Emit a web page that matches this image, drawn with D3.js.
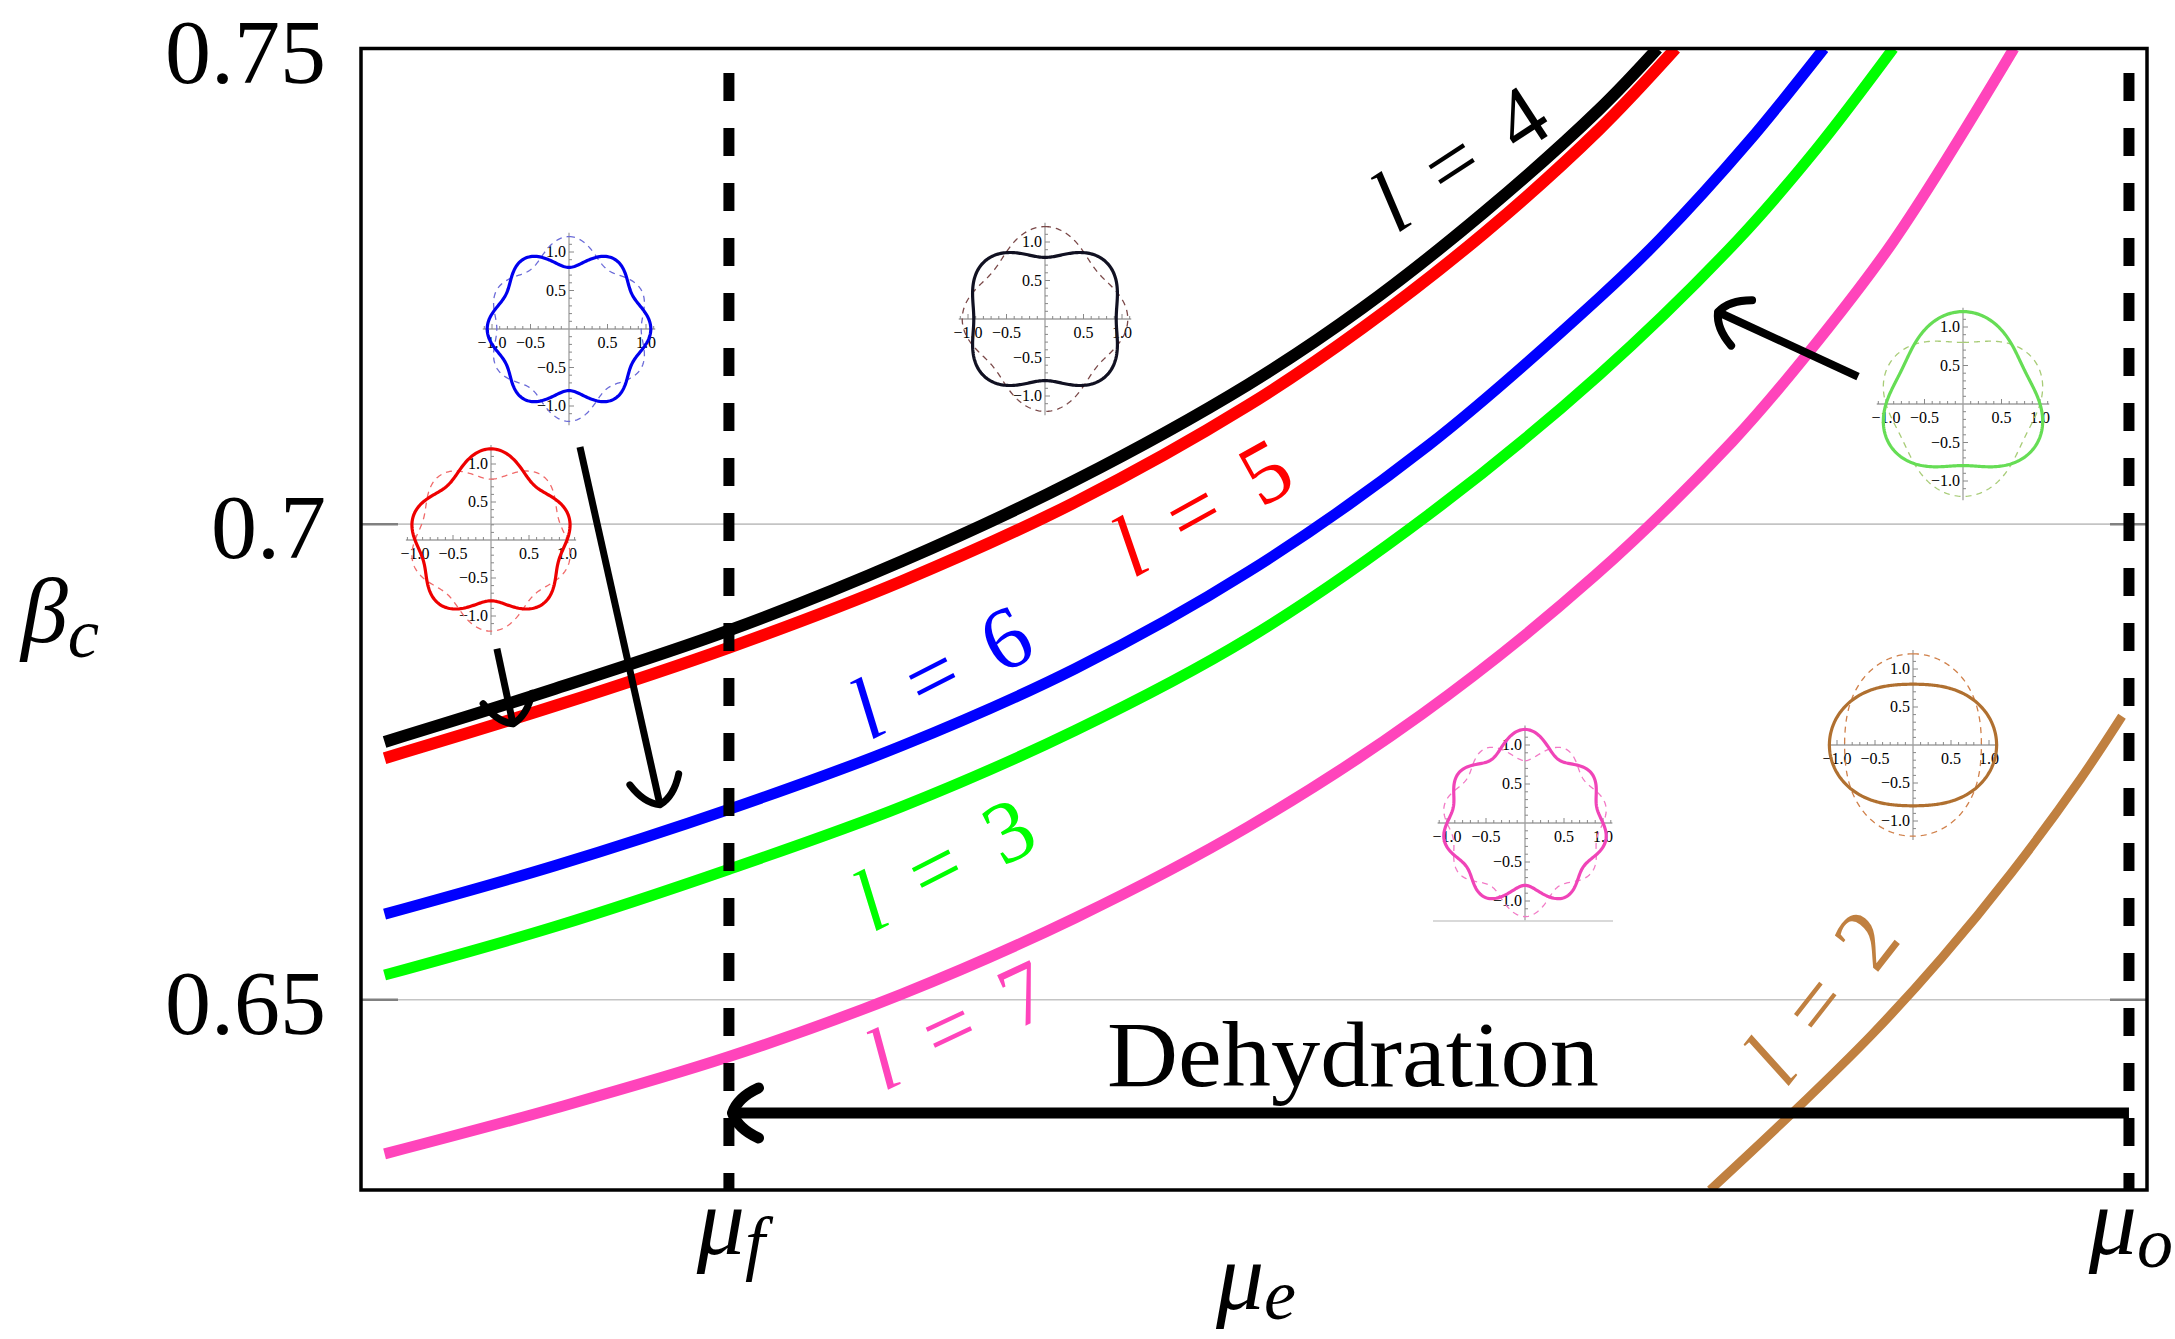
<!DOCTYPE html>
<html lang="en">
<head>
<meta charset="UTF-8">
<script src="https://cdn.jsdelivr.net/npm/d3@7"></script>
<style>
  body { margin: 0; background: #fff; }
  svg text { font-family: "Liberation Serif", "DejaVu Serif", serif; }
</style>
</head>
<body>
<div id="chart"></div>
<script>
// mu_e runs 0..1 across the frame (no numeric ticks in the original), beta_c on y
const l4X = [0.0132, 0.1087, 0.2057, 0.3028, 0.3998, 0.4969, 0.5606, 0.6289, 0.6933, 0.7259];
const l4Y = [0.6771, 0.6827, 0.6888, 0.6961, 0.7046, 0.7147, 0.7227, 0.7328, 0.7436, 0.7500];
const l5X = [0.0132, 0.1087, 0.2057, 0.3028, 0.3998, 0.4969, 0.5606, 0.6289, 0.6933, 0.7360];
const l5Y = [0.6754, 0.6809, 0.6870, 0.6940, 0.7023, 0.7125, 0.7206, 0.7306, 0.7415, 0.7500];
const l6X = [0.0132, 0.1087, 0.2057, 0.3028, 0.3998, 0.4969, 0.5978, 0.6933, 0.7275, 0.7764, 0.8191];
const l6Y = [0.6590, 0.6641, 0.6700, 0.6767, 0.6848, 0.6950, 0.7083, 0.7238, 0.7300, 0.7401, 0.7500];
const l3X = [0.0132, 0.1087, 0.2057, 0.3028, 0.3998, 0.4969, 0.5978, 0.6933, 0.7710, 0.8152, 0.8579];
const l3Y = [0.6526, 0.6577, 0.6637, 0.6703, 0.6783, 0.6880, 0.7010, 0.7157, 0.7299, 0.7395, 0.7500];
const l7X = [0.0132, 0.1087, 0.2057, 0.3028, 0.3998, 0.4969, 0.5939, 0.6910, 0.7679, 0.8082, 0.8579, 0.9255];
const l7Y = [0.6338, 0.6386, 0.6440, 0.6506, 0.6586, 0.6682, 0.6800, 0.6946, 0.7087, 0.7175, 0.7297, 0.7500];
const l2X = [0.7554, 0.8020, 0.8463, 0.8851, 0.9239, 0.9627, 0.9860];
const l2Y = [0.6300, 0.6382, 0.6464, 0.6544, 0.6633, 0.6732, 0.6798];

const yTicks = [0.65, 0.7, 0.75];
const yTickLabels = ['0.65', '0.7', '0.75'];
const muMarks = [0.2060, 0.9899];          // mu_f, mu_o
const muMarkSubs = ['f', 'o'];
const dehydrationY = 0.6381;

// inset shapes: r = 1 + amp * P_l(cos theta), dashed one with opposite sign
const insetModes = [6, 5, 4, 3, 7, 2];
const insetAmps = [-0.2, 0.2, -0.2, 0.2, 0.2, -0.2];
const insetTickValues = [-1, -0.5, 0.5, 1];
const insetTickLabels = ['\u22121.0', '\u22120.5', '0.5', '1.0'];

const W = 2175, H = 1339;
const margin = { top: 48.5, right: 28, bottom: 149, left: 361 };
const width = W - margin.left - margin.right,
      height = H - margin.top - margin.bottom;

const svg = d3.select('#chart').append('svg')
    .attr('width', W)
    .attr('height', H);

const x = d3.scaleLinear().domain([0, 1]).range([margin.left, margin.left + width]);
const y = d3.scaleLinear().domain([0.63, 0.75]).range([margin.top + height, margin.top]);

svg.append('clipPath').attr('id', 'frame')
    .append('rect')
    .attr('x', margin.left).attr('y', margin.top)
    .attr('width', width).attr('height', height);

// grid lines + small ticks
svg.append('g').selectAll('line')
    .data(yTicks.slice(0, 2))
    .enter().append('line')
    .attr('x1', margin.left).attr('x2', margin.left + width)
    .attr('y1', d => y(d)).attr('y2', d => y(d))
    .attr('stroke', '#c4c4c4').attr('stroke-width', 1.6);

const tickG = svg.append('g');
yTicks.slice(0, 2).forEach(t => {
    tickG.append('line').attr('x1', margin.left).attr('x2', margin.left + 37)
        .attr('y1', y(t)).attr('y2', y(t)).attr('stroke', '#808080').attr('stroke-width', 2.5);
    tickG.append('line').attr('x1', margin.left + width - 37).attr('x2', margin.left + width)
        .attr('y1', y(t)).attr('y2', y(t)).attr('stroke', '#808080').attr('stroke-width', 2.5);
});

// y tick labels
svg.append('g').selectAll('text')
    .data(yTicks)
    .enter().append('text')
    .attr('x', margin.left - 35)
    .attr('y', d => y(d) + 34)
    .attr('text-anchor', 'end')
    .attr('font-size', 92)
    .text((d, i) => yTickLabels[i]);

// legendre polynomial
function legendre(n, t) {
    let p0 = 1, p1 = t;
    if (n === 0) return p0;
    for (let k = 1; k < n; k++) {
        const p2 = ((2 * k + 1) * t * p1 - k * p0) / (k + 1);
        p0 = p1; p1 = p2;
    }
    return p1;
}

// insets (placed like small pasted figures)
const insets = [
    { ox: 569, oy: 329, unit: 77, color: '#0000ee', dash: '#6b6bd8' },
    { ox: 491, oy: 540, unit: 76, color: '#ee0000', dash: '#f06a6a' },
    { ox: 1045, oy: 319, unit: 77, color: '#111122', dash: '#7a4848' },
    { ox: 1963, oy: 404, unit: 77, color: '#66dd55', dash: '#a8cc77' },
    { ox: 1525, oy: 823, unit: 78, color: '#f044b8', dash: '#f27ac6' },
    { ox: 1913, oy: 745, unit: 76, color: '#b07030', dash: '#d0804a' }
];

insets.forEach((cfg, i) => {
    const sx = d3.scaleLinear().domain([-1, 1]).range([cfg.ox - cfg.unit, cfg.ox + cfg.unit]);
    const sy = d3.scaleLinear().domain([-1, 1]).range([cfg.oy + cfg.unit, cfg.oy - cfg.unit]);
    const g = svg.append('g');

    g.append('line').attr('x1', sx(-1.12)).attr('x2', sx(1.12))
        .attr('y1', sy(0)).attr('y2', sy(0)).attr('stroke', '#a0a0a0').attr('stroke-width', 1.3);
    g.append('line').attr('x1', sx(0)).attr('x2', sx(0))
        .attr('y1', sy(1.25)).attr('y2', sy(-1.25)).attr('stroke', '#a0a0a0').attr('stroke-width', 1.3);

    d3.range(-11, 12).filter(k => k !== 0).forEach(k => {
        const v = k / 10, len = (k % 5 === 0) ? 5 : 3;
        g.append('line').attr('x1', sx(v)).attr('x2', sx(v))
            .attr('y1', sy(0)).attr('y2', sy(0) - len).attr('stroke', '#888').attr('stroke-width', 1);
        g.append('line').attr('x1', sx(0)).attr('x2', sx(0) + len)
            .attr('y1', sy(v)).attr('y2', sy(v)).attr('stroke', '#888').attr('stroke-width', 1);
    });

    g.selectAll('.xl').data(insetTickValues).enter().append('text')
        .attr('x', d => sx(d)).attr('y', sy(0) + 19)
        .attr('text-anchor', 'middle').attr('font-size', 16)
        .text((d, j) => insetTickLabels[j]);
    g.selectAll('.yl').data(insetTickValues).enter().append('text')
        .attr('x', sx(0) - 3).attr('y', d => sy(d) + 5)
        .attr('text-anchor', 'end').attr('font-size', 16)
        .text((d, j) => insetTickLabels[j]);

    const thetas = d3.range(0, 361).map(d => d * Math.PI / 180);
    const shape = sgn => thetas.map(th => {
        const r = 1 + sgn * insetAmps[i] * legendre(insetModes[i], Math.cos(th));
        return [sx(r * Math.sin(th)), sy(r * Math.cos(th))];
    });
    g.append('path').attr('d', d3.line()(shape(-1)))
        .attr('fill', 'none').attr('stroke', cfg.dash).attr('stroke-width', 1.3)
        .attr('stroke-dasharray', '6,5');
    g.append('path').attr('d', d3.line()(shape(1)))
        .attr('fill', 'none').attr('stroke', cfg.color).attr('stroke-width', 3.2);
});
// pink inset has a stray frame line under it
svg.append('line').attr('x1', 1433).attr('x2', 1613).attr('y1', 921).attr('y2', 921)
    .attr('stroke', '#cccccc').attr('stroke-width', 1.5);

// main curves
const series = [
    { l: 4, xs: l4X, ys: l4Y, color: '#000000', w: 12 },
    { l: 5, xs: l5X, ys: l5Y, color: '#ff0000', w: 12 },
    { l: 6, xs: l6X, ys: l6Y, color: '#0000ff', w: 11 },
    { l: 3, xs: l3X, ys: l3Y, color: '#00ff00', w: 11 },
    { l: 7, xs: l7X, ys: l7Y, color: '#ff44bb', w: 11 },
    { l: 2, xs: l2X, ys: l2Y, color: '#c08040', w: 9 }
];

const line = d3.line()
    .x(d => x(d[0]))
    .y(d => y(d[1]))
    .curve(d3.curveCatmullRom.alpha(0.5));

const curveG = svg.append('g').attr('clip-path', 'url(#frame)');
series.slice().reverse().forEach(s => {
    curveG.append('path')
        .attr('d', line(s.xs.map((v, i) => [v, s.ys[i]])))
        .attr('fill', 'none')
        .attr('stroke', s.color)
        .attr('stroke-width', s.w);
});

// vertical dashed lines at mu_f and mu_o
svg.append('g').selectAll('line')
    .data(muMarks)
    .enter().append('line')
    .attr('x1', d => x(d)).attr('x2', d => x(d))
    .attr('y1', margin.top).attr('y2', margin.top + height)
    .attr('stroke', '#000').attr('stroke-width', 11)
    .attr('stroke-dasharray', '28,27').attr('stroke-dashoffset', 30.5);

// arrows
function arrowHead(g, tx, ty, ang, len, half, w) {
    const c = Math.cos(ang), s = Math.sin(ang);
    const pt = (u, v) => [tx + u * c - v * s, ty + u * s + v * c];
    const p1 = pt(-len, -half), c1 = pt(-len * 0.2, -half * 0.62);
    const p2 = pt(-len, half), c2 = pt(-len * 0.2, half * 0.62);
    g.append('path')
        .attr('d', `M${p1}Q${c1} ${tx},${ty}Q${c2} ${p2}`)
        .attr('fill', 'none').attr('stroke', '#000').attr('stroke-width', w)
        .attr('stroke-linecap', 'round').attr('stroke-linejoin', 'round');
}
const arrows = [
    { x0: 0.0761, y0: 0.6869, x1: 0.0851, y1: 0.6790, w: 7 },
    { x0: 0.1226, y0: 0.7081, x1: 0.1674, y1: 0.6705, w: 7 },
    { x0: 0.8382, y0: 0.7155, x1: 0.7598, y1: 0.7223, w: 8 },
    { x0: muMarks[1], y0: dehydrationY, x1: muMarks[0] + 0.002, y1: dehydrationY, w: 11 }
];
const arrowG = svg.append('g');
arrows.forEach(a => {
    const X0 = x(a.x0), Y0 = y(a.y0), X1 = x(a.x1), Y1 = y(a.y1);
    arrowG.append('line').attr('x1', X0).attr('y1', Y0).attr('x2', X1).attr('y2', Y1)
        .attr('stroke', '#000').attr('stroke-width', a.w);
    arrowHead(arrowG, X1, Y1, Math.atan2(Y1 - Y0, X1 - X0), 26, 25, a.w);
});

svg.append('text')
    .attr('x', x(0.5554)).attr('y', y(dehydrationY) - 27)
    .attr('text-anchor', 'middle')
    .attr('font-size', 94)
    .attr('textLength', 492)
    .attr('lengthAdjust', 'spacingAndGlyphs')
    .text('Dehydration');

// curve labels
const curveLabels = [
    { l: 4, x: 0.6148, y: 0.7386, a: -33 },
    { l: 5, x: 0.4703, y: 0.7019, a: -29 },
    { l: 6, x: 0.3242, y: 0.6846, a: -27 },
    { l: 3, x: 0.3259, y: 0.6644, a: -27 },
    { l: 7, x: 0.3337, y: 0.6475, a: -25 },
    { l: 2, x: 0.8169, y: 0.6504, a: -52 }
];
curveLabels.forEach(c => {
    const s = series.find(d => d.l === c.l);
    const t = svg.append('text')
        .attr('transform', `translate(${x(c.x)},${y(c.y)}) rotate(${c.a})`)
        .attr('text-anchor', 'middle')
        .attr('dy', '0.35em')
        .attr('font-size', 88)
        .attr('fill', s.color)
        .attr('word-spacing', 14);
    t.append('tspan').attr('font-style', 'italic').text('l');
    t.append('tspan').text(' = ' + c.l);
});

// frame
svg.append('rect')
    .attr('x', margin.left).attr('y', margin.top)
    .attr('width', width).attr('height', height)
    .attr('fill', 'none').attr('stroke', '#000').attr('stroke-width', 3.5);

// axis labels
function subLabel(px, py, main, sub, size, drop) {
    const t = svg.append('text').attr('x', px).attr('y', py)
        .attr('text-anchor', 'middle').attr('font-style', 'italic').attr('font-size', size);
    t.append('tspan').text(main);
    t.append('tspan').attr('font-size', size * 0.75).attr('dy', drop).text(sub);
}
muMarks.forEach((m, i) => subLabel(x(m) + 2, 1254, '\u03bc', muMarkSubs[i], 96, 13));
subLabel(1256, 1309, '\u03bc', 'e', 96, 10);
subLabel(60, 642, '\u03b2', 'c', 94, 15);
</script>
</body>
</html>
